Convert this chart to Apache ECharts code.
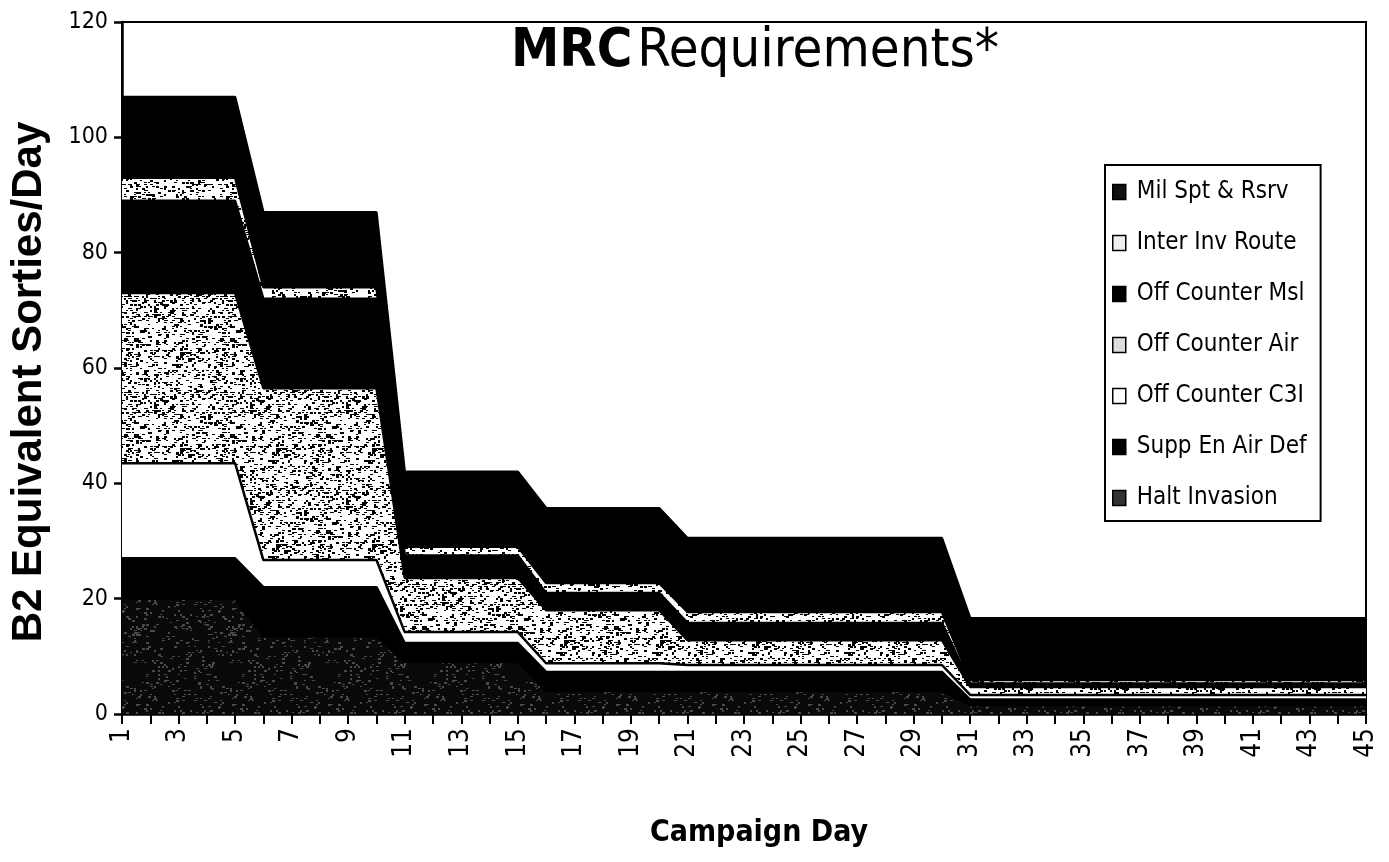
<!DOCTYPE html>
<html>
<head>
<meta charset="utf-8">
<script src="https://cdn.jsdelivr.net/npm/echarts@6/dist/echarts.min.js"></script>
<style>
  html, body { margin: 0; padding: 0; background: #fff; }
  #chart { width: 1389px; height: 862px; }
</style>
</head>
<body>
<div id="chart"></div>
<script>
// Campaign days on the category axis
const days = ['1','2','3','4','5','6','7','8','9','10','11','12','13','14','15',
  '16','17','18','19','20','21','22','23','24','25','26','27','28','29','30',
  '31','32','33','34','35','36','37','38','39','40','41','42','43','44','45'];

// B2 equivalent sorties per day, by mission (stack order: bottom first)
const haltInvasion = [20,20,20,20,20, 13.5,13.5,13.5,13.5,13.5, 9,9,9,9,9, 4,4,4,4,4,
  4,4,4,4,4,4,4,4,4,4, 1.5,1.5,1.5,1.5,1.5,1.5,1.5,1.5,1.5,1.5,1.5,1.5,1.5,1.5,1.5];
const suppEnAirDef = [7,7,7,7,7, 8.5,8.5,8.5,8.5,8.5, 3.3,3.3,3.3,3.3,3.3, 3.3,3.3,3.3,3.3,3.3,
  3.3,3.3,3.3,3.3,3.3,3.3,3.3,3.3,3.3,3.3, 1,1,1,1,1,1,1,1,1,1,1,1,1,1,1];
const offCounterC3I = [16.5,16.5,16.5,16.5,16.5, 4.7,4.7,4.7,4.7,4.7, 1.9,1.9,1.9,1.9,1.9, 1.5,1.5,1.5,1.5,1.5,
  1.2,1.2,1.2,1.2,1.2,1.2,1.2,1.2,1.2,1.2, 0.8,0.8,0.8,0.8,0.8,0.8,0.8,0.8,0.8,0.8,0.8,0.8,0.8,0.8,0.8];
const offCounterAir = [29.5,29.5,29.5,29.5,29.5, 29.8,29.8,29.8,29.8,29.8, 9.4,9.4,9.4,9.4,9.4, 9.2,9.2,9.2,9.2,9.2,
  4.3,4.3,4.3,4.3,4.3,4.3,4.3,4.3,4.3,4.3, 1.4,1.4,1.4,1.4,1.4,1.4,1.4,1.4,1.4,1.4,1.4,1.4,1.4,1.4,1.4];
const offCounterMsl = [16,16,16,16,16, 15.5,15.5,15.5,15.5,15.5, 3.9,3.9,3.9,3.9,3.9, 3,3,3,3,3,
  3,3,3,3,3,3,3,3,3,3, 0.6,0.6,0.6,0.6,0.6,0.6,0.6,0.6,0.6,0.6,0.6,0.6,0.6,0.6,0.6];
const interInvRoute = [4,4,4,4,4, 2,2,2,2,2, 1.5,1.5,1.5,1.5,1.5, 1.7,1.7,1.7,1.7,1.7,
  1.9,1.9,1.9,1.9,1.9,1.9,1.9,1.9,1.9,1.9, 0.6,0.6,0.6,0.6,0.6,0.6,0.6,0.6,0.6,0.6,0.6,0.6,0.6,0.6,0.6];
const milSptRsrv = [14,14,14,14,14, 13,13,13,13,13, 13,13,13,13,13, 13,13,13,13,13,
  12.8,12.8,12.8,12.8,12.8,12.8,12.8,12.8,12.8,12.8, 10.7,10.7,10.7,10.7,10.7,10.7,10.7,10.7,10.7,10.7,10.7,10.7,10.7,10.7,10.7];

const yTicks = [0, 20, 40, 60, 80, 100, 120];

const NARROW = "'Liberation Sans Narrow', 'Arial Narrow', 'DejaVu Sans Condensed', sans-serif";
const WIDE = "'Liberation Sans', Arial, sans-serif";

// Speckled fill tiles, built from a fixed hash so the texture is stable
function speckle(base, dot, density, seed) {
  const size = 96;
  const c = document.createElement('canvas');
  c.width = size; c.height = size;
  const g = c.getContext('2d');
  g.fillStyle = base;
  g.fillRect(0, 0, size, size);
  g.fillStyle = dot;
  for (let y = 0; y < size; y += 2) {
    for (let x = 0; x < size; x += 2) {
      let h = (x * 374761393 + y * 668265263 + seed * 1442695041) | 0;
      h = Math.imul(h ^ (h >>> 13), 1274126177);
      h = (h ^ (h >>> 16)) >>> 0;
      if ((h % 1000) / 1000 < density) {
        g.fillRect(x, y, (h & 4) ? 3 : 2, (h & 8) ? 2 : 1);
      }
    }
  }
  return { image: c, repeat: 'repeat' };
}

const fills = {
  halt: speckle('#0a0a0a', '#4a4a4a', 0.12, 3),
  supp: '#000',
  c3i: '#fff',
  air: speckle('#fff', '#000', 0.28, 7),
  msl: '#000',
  inter: speckle('#fff', '#000', 0.22, 11),
  mil: '#000'
};

const layers = [
  { name: 'Halt Invasion', data: haltInvasion, fill: fills.halt, icon: '#333' },
  { name: 'Supp En Air Def', data: suppEnAirDef, fill: fills.supp, icon: '#000' },
  { name: 'Off Counter C3I', data: offCounterC3I, fill: fills.c3i, icon: '#fff' },
  { name: 'Off Counter Air', data: offCounterAir, fill: fills.air, icon: '#ddd' },
  { name: 'Off Counter Msl', data: offCounterMsl, fill: fills.msl, icon: '#000' },
  { name: 'Inter Inv Route', data: interInvRoute, fill: fills.inter, icon: '#eee' },
  { name: 'Mil Spt & Rsrv', data: milSptRsrv, fill: fills.mil, icon: '#111' }
];

const chart = echarts.init(document.getElementById('chart'), null, { renderer: 'canvas' });

chart.setOption({
  animation: false,
  backgroundColor: '#fff',
  title: {
    text: '{b|MRC} {n|Requirements*}',
    left: 750,
    top: 20,
    textAlign: 'center',
    textStyle: {
      rich: {
        b: { fontFamily: NARROW, fontWeight: 'bold', fontSize: 54, color: '#000' },
        n: { fontFamily: NARROW, fontWeight: 'normal', fontSize: 54, color: '#000' }
      }
    }
  },
  legend: {
    orient: 'vertical',
    left: 1105,
    top: 165,
    padding: [13, 14, 9, 7],
    itemGap: 23,
    itemWidth: 13,
    itemHeight: 15,
    icon: 'rect',
    backgroundColor: '#fff',
    borderColor: '#000',
    borderWidth: 2,
    itemStyle: { borderColor: '#000', borderWidth: 1.5 },
    textStyle: { fontFamily: NARROW, fontSize: 24, color: '#000', lineHeight: 28, padding: [0, 0, 0, 6] },
    data: ['Mil Spt & Rsrv', 'Inter Inv Route', 'Off Counter Msl', 'Off Counter Air',
      'Off Counter C3I', 'Supp En Air Def', 'Halt Invasion']
  },
  grid: {
    left: 118, right: 23, top: 22, bottom: 148,
    show: true, borderColor: '#000', borderWidth: 2, backgroundColor: 'transparent'
  },
  xAxis: {
    type: 'category',
    data: days,
    boundaryGap: false,
    name: 'Campaign Day',
    nameLocation: 'middle',
    nameGap: 104,
    nameTextStyle: {
      fontFamily: NARROW, fontWeight: 'bold', fontSize: 30, color: '#000',
      padding: [0, 0, 0, 30]
    },
    axisLine: { lineStyle: { color: '#000', width: 2.5 } },
    axisTick: { show: true, interval: 0, length: 10, lineStyle: { color: '#000', width: 2 } },
    axisLabel: {
      interval: 1, rotate: 90, margin: 14,
      fontFamily: NARROW, fontSize: 26, color: '#000'
    },
    splitLine: { show: false }
  },
  yAxis: {
    type: 'value',
    min: yTicks[0],
    max: yTicks[yTicks.length - 1],
    interval: 20,
    name: 'B2 Equivalent Sorties/Day',
    nameLocation: 'middle',
    nameGap: 72,
    nameTextStyle: {
      fontFamily: WIDE, fontWeight: 'bold', fontSize: 42, color: '#000',
      padding: [0, 28, 0, 0]
    },
    axisLine: { show: true, lineStyle: { color: '#000', width: 2.5 } },
    axisTick: { show: true, length: 8, lineStyle: { color: '#000', width: 2.5 } },
    axisLabel: { fontFamily: NARROW, fontSize: 23, color: '#000', margin: 14 },
    splitLine: { show: false }
  },
  series: layers.map(l => ({
    name: l.name,
    type: 'line',
    stack: 'mrc',
    data: l.data,
    symbol: 'none',
    itemStyle: { color: l.icon, borderColor: '#000' },
    lineStyle: { color: '#000', width: 2.5 },
    areaStyle: { color: l.fill, opacity: 1 }
  }))
});
</script>
</body>
</html>
